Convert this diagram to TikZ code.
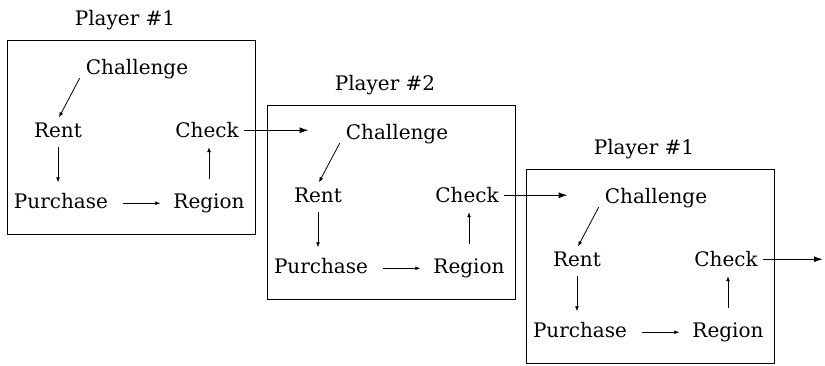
\documentclass[tikz,border=0pt]{standalone}
\usepackage{fontspec}
\setmainfont{DejaVu Serif}
\usetikzlibrary{arrows.meta}
\tikzset{
  txt/.style={inner sep=0pt, text height=14.5pt, text depth=5pt, anchor=base, font=\fontsize{20}{23}\selectfont},
  panelbox/.style={draw, line width=0.9pt, minimum width=248pt, minimum height=194pt, inner sep=0pt},
  arr/.style={line width=0.8pt, -{Latex[length=5pt,width=4pt]}},
  bigarr/.style={line width=1.3pt, -{Latex[length=9pt,width=6pt]}}
}
\newcommand\playerpanel[3]{%
\begin{scope}[shift={#3}]
\node[panelbox] (#1box) at (131,137) {};
\node[txt] (#1pl) at (125,25) {Player \##2};
\node[txt] (#1ch) at (137,74) {Challenge};
\node[txt] (#1rent) at (58,137) {Rent};
\node[txt] (#1chk) at (207,137) {Check};
\node[txt] (#1pur) at (61,208) {Purchase};
\node[txt] (#1reg) at (209,208) {Region};
\draw[arr] ([shift={(-6,-1)}]#1ch.south west) -- ([shift={(1,-5)}]#1rent.north);
\draw[arr] ([shift={(0,5)}]#1rent.south) -- ([shift={(0,-11)}]#1pur.north -| #1rent.south);
\draw[arr] ([shift={(15,0)}]#1pur.east) -- ([shift={(-13,0)}]#1reg.west |- #1pur.east);
\draw[arr] ([shift={(0,-14)}]#1reg.north) -- ([shift={(0,5)}]#1chk.south -| #1reg.north);
\end{scope}}
\begin{document}
\begin{tikzpicture}[x=1pt,y=-1pt]
\useasboundingbox (0,0) rectangle (825,365);
\playerpanel{a}{1}{(0,0)}
\playerpanel{b}{2}{(260,65)}
\playerpanel{c}{1}{(519,129)}
\coordinate (out) at (823,258);
\draw[bigarr] ([shift={(5,-2)}]achk.east) -- ([shift={(-37,-2)}]bch.west |- achk.east);
\draw[bigarr] ([shift={(5,-2)}]bchk.east) -- ([shift={(-37,-2)}]cch.west |- bchk.east);
\draw[bigarr] ([shift={(5,-2)}]cchk.east) -- ([shift={(0,-2)}]out |- cchk.east);
\end{tikzpicture}
\end{document}
